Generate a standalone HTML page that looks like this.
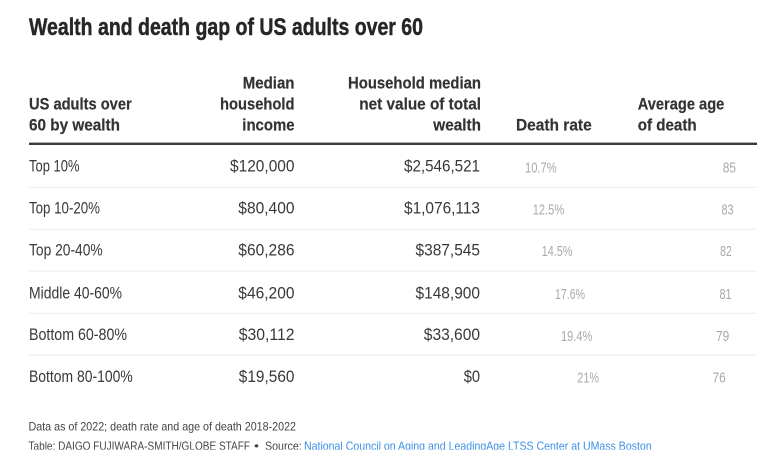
<!DOCTYPE html>
<html>
<head>
<meta charset="utf-8">
<style>
  html, body { margin: 0; padding: 0; background: #ffffff; }
  body { width: 768px; height: 458px; overflow: hidden; }
  svg { display: block; }
  text { font-family: "Liberation Sans", "DejaVu Sans", sans-serif; }
  .title { font-size: 24px; font-weight: bold; fill: #262626; stroke: #262626; stroke-width: 0.45px; }
  .hd { font-size: 17px; font-weight: bold; fill: #333333; stroke: #333333; stroke-width: 0.2px; }
  .bd { font-size: 16.5px; fill: #383838; }
  .lt { font-size: 15px; fill: #a9a9a9; }
  .ft { font-size: 11.8px; fill: #444444; }
  .lk { font-size: 11.8px; fill: #3b8fe8; }
</style>
</head>
<body>
<svg width="768" height="458" viewBox="0 0 768 458" xmlns="http://www.w3.org/2000/svg">
  <rect x="0" y="0" width="768" height="458" fill="#ffffff"/>

  <!-- Title -->
  <text class="title" x="29" y="35" textLength="394" lengthAdjust="spacingAndGlyphs">Wealth and death gap of US adults over 60</text>

  <!-- Header -->
  <text class="hd" x="29" y="109.5" textLength="102.7" lengthAdjust="spacingAndGlyphs">US adults over</text>
  <text class="hd" x="29" y="130.5" textLength="91" lengthAdjust="spacingAndGlyphs">60 by wealth</text>

  <text class="hd" x="242.7" y="88.5" textLength="51.8" lengthAdjust="spacingAndGlyphs">Median</text>
  <text class="hd" x="220" y="109.5" textLength="74.5" lengthAdjust="spacingAndGlyphs">household</text>
  <text class="hd" x="242.3" y="130.5" textLength="52.2" lengthAdjust="spacingAndGlyphs">income</text>

  <text class="hd" x="348" y="88.5" textLength="133" lengthAdjust="spacingAndGlyphs">Household median</text>
  <text class="hd" x="359.3" y="109.5" textLength="121.7" lengthAdjust="spacingAndGlyphs">net value of total</text>
  <text class="hd" x="433.3" y="130.5" textLength="47.7" lengthAdjust="spacingAndGlyphs">wealth</text>

  <text class="hd" x="516" y="130.5" textLength="75.7" lengthAdjust="spacingAndGlyphs">Death rate</text>

  <text class="hd" x="637.7" y="109.5" textLength="86.6" lengthAdjust="spacingAndGlyphs">Average age</text>
  <text class="hd" x="637.7" y="130.5" textLength="59" lengthAdjust="spacingAndGlyphs">of death</text>

  <!-- Header rule -->
  <rect x="29" y="142.6" width="728" height="2.4" fill="#3a3a3a"/>

  <!-- Row separators -->
  <rect x="29" y="186.8" width="728" height="1" fill="#ececec"/>
  <rect x="29" y="228.8" width="728" height="1" fill="#ececec"/>
  <rect x="29" y="270.6" width="728" height="1" fill="#ececec"/>
  <rect x="29" y="312.8" width="728" height="1" fill="#ececec"/>
  <rect x="29" y="354.6" width="728" height="1" fill="#ececec"/>

  <!-- Row 1 -->
  <text class="bd" x="29" y="171.7" textLength="50.5" lengthAdjust="spacingAndGlyphs">Top 10%</text>
  <text class="bd" x="230" y="171.7" textLength="64.5" lengthAdjust="spacingAndGlyphs">$120,000</text>
  <text class="bd" x="404" y="171.7" textLength="76" lengthAdjust="spacingAndGlyphs">$2,546,521</text>
  <text class="lt" x="525" y="172.5" textLength="31.7" lengthAdjust="spacingAndGlyphs">10.7%</text>
  <text class="lt" x="722.7" y="172.5" textLength="13.3" lengthAdjust="spacingAndGlyphs">85</text>

  <!-- Row 2 -->
  <text class="bd" x="29" y="213.5" textLength="71" lengthAdjust="spacingAndGlyphs">Top 10-20%</text>
  <text class="bd" x="238.3" y="213.5" textLength="56.2" lengthAdjust="spacingAndGlyphs">$80,400</text>
  <text class="bd" x="404" y="213.5" textLength="76" lengthAdjust="spacingAndGlyphs">$1,076,113</text>
  <text class="lt" x="532.7" y="214.3" textLength="31.6" lengthAdjust="spacingAndGlyphs">12.5%</text>
  <text class="lt" x="721.5" y="214.3" textLength="12" lengthAdjust="spacingAndGlyphs">83</text>

  <!-- Row 3 -->
  <text class="bd" x="29" y="255.3" textLength="73.7" lengthAdjust="spacingAndGlyphs">Top 20-40%</text>
  <text class="bd" x="238.3" y="255.3" textLength="56.2" lengthAdjust="spacingAndGlyphs">$60,286</text>
  <text class="bd" x="415.5" y="255.3" textLength="64.5" lengthAdjust="spacingAndGlyphs">$387,545</text>
  <text class="lt" x="541.7" y="256.2" textLength="30.7" lengthAdjust="spacingAndGlyphs">14.5%</text>
  <text class="lt" x="720" y="256.2" textLength="11.8" lengthAdjust="spacingAndGlyphs">82</text>

  <!-- Row 4 -->
  <text class="bd" x="29" y="298.3" textLength="93" lengthAdjust="spacingAndGlyphs">Middle 40-60%</text>
  <text class="bd" x="238.3" y="298.3" textLength="56.2" lengthAdjust="spacingAndGlyphs">$46,200</text>
  <text class="bd" x="415.5" y="298.3" textLength="64.5" lengthAdjust="spacingAndGlyphs">$148,900</text>
  <text class="lt" x="555" y="299" textLength="30" lengthAdjust="spacingAndGlyphs">17.6%</text>
  <text class="lt" x="719.5" y="299" textLength="12" lengthAdjust="spacingAndGlyphs">81</text>

  <!-- Row 5 -->
  <text class="bd" x="29" y="340.2" textLength="98" lengthAdjust="spacingAndGlyphs">Bottom 60-80%</text>
  <text class="bd" x="238.8" y="340.2" textLength="55.7" lengthAdjust="spacingAndGlyphs">$30,112</text>
  <text class="bd" x="423.8" y="340.2" textLength="56.2" lengthAdjust="spacingAndGlyphs">$33,600</text>
  <text class="lt" x="561" y="341" textLength="31.3" lengthAdjust="spacingAndGlyphs">19.4%</text>
  <text class="lt" x="716" y="341" textLength="13.3" lengthAdjust="spacingAndGlyphs">79</text>

  <!-- Row 6 -->
  <text class="bd" x="29" y="381.8" textLength="103.7" lengthAdjust="spacingAndGlyphs">Bottom 80-100%</text>
  <text class="bd" x="238.8" y="381.8" textLength="55.7" lengthAdjust="spacingAndGlyphs">$19,560</text>
  <text class="bd" x="463.7" y="381.8" textLength="16.3" lengthAdjust="spacingAndGlyphs">$0</text>
  <text class="lt" x="577.3" y="382.6" textLength="21.7" lengthAdjust="spacingAndGlyphs">21%</text>
  <text class="lt" x="712.5" y="382.6" textLength="13.2" lengthAdjust="spacingAndGlyphs">76</text>

  <!-- Footer -->
  <text class="ft" x="28.5" y="430.7" textLength="267.5" lengthAdjust="spacingAndGlyphs">Data as of 2022; death rate and age of death 2018-2022</text>
  <text class="ft" x="28.5" y="450" textLength="221.5" lengthAdjust="spacingAndGlyphs">Table: DAIGO FUJIWARA-SMITH/GLOBE STAFF</text>
  <text class="ft" x="254" y="450" textLength="5" lengthAdjust="spacingAndGlyphs">•</text>
  <text class="ft" x="265" y="450" textLength="36.7" lengthAdjust="spacingAndGlyphs">Source:</text>
  <text class="lk" x="304" y="450" textLength="347.7" lengthAdjust="spacingAndGlyphs">National Council on Aging and LeadingAge LTSS Center at UMass Boston</text>

  <!-- bottom clip -->
  <rect x="0" y="449.6" width="768" height="9" fill="#ffffff"/>
</svg>
</body>
</html>
